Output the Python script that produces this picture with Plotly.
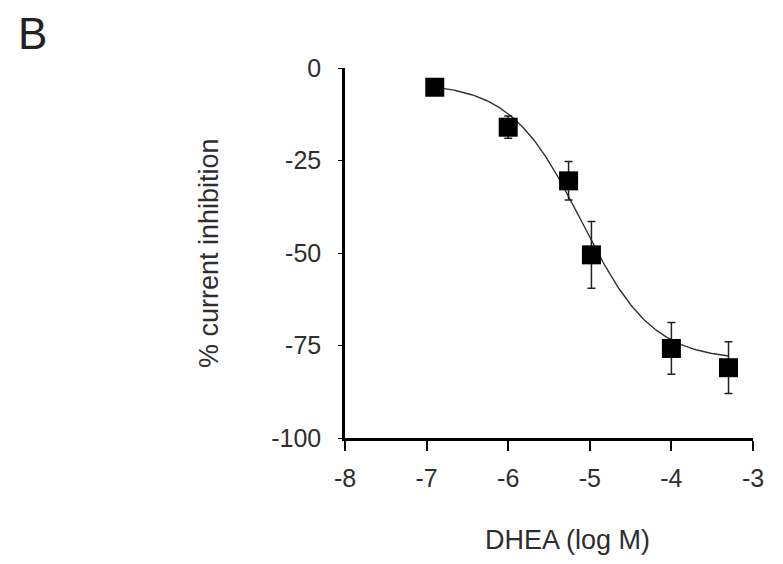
import numpy as np
import plotly.graph_objects as go

# measured points: log concentration, % inhibition, error (SEM)
log_conc = [-6.9, -6.0, -5.26, -4.98, -4.0, -3.3]
inhibition = [-5.2, -16.0, -30.5, -50.5, -75.8, -81.0]
sem = [2.0, 3.0, 5.2, 9.0, 7.0, 7.0]

# Hill fit parameters
fit_top = -4.0
fit_bottom = -79.0
fit_logic50 = -5.1
fit_slope = 1.0

x_fit = np.linspace(-6.9, -3.3, 200)
y_fit = fit_bottom + (fit_top - fit_bottom) / (1 + 10 ** ((x_fit - fit_logic50) * fit_slope))

x_ticks = [-8, -7, -6, -5, -4, -3]
y_ticks = [0, -25, -50, -75, -100]

FONT = "Liberation Sans, Arial, sans-serif"
tick_font = dict(family=FONT, size=25, color="#2e2e2e")
title_font = dict(family=FONT, size=27, color="#2e2e2e")

fig = go.Figure()
fig.add_trace(go.Scatter(x=x_fit, y=y_fit, mode="lines",
                         line=dict(color="#333333", width=1.4),
                         hoverinfo="skip", cliponaxis=False))
fig.add_trace(go.Scatter(x=log_conc, y=inhibition, mode="markers",
                         marker=dict(symbol="square", size=19, color="black"),
                         error_y=dict(type="data", array=sem, visible=True,
                                      color="#222222", thickness=1.5, width=4),
                         cliponaxis=False))

# page body has an 8px margin, so the figure is sized to fit inside it
fig.update_layout(
    width=775, height=556,
    margin=dict(l=337, r=30, t=60, b=126),
    plot_bgcolor="white", paper_bgcolor="white",
    showlegend=False,
    xaxis=dict(range=[-8, -3], tickvals=x_ticks, ticktext=[str(v) for v in x_ticks],
               showline=True, linecolor="black", linewidth=2.5,
               ticks="outside", ticklen=10, tickwidth=1.5, tickcolor="black",
               ticklabelstandoff=6,
               showgrid=False, zeroline=False, tickfont=tick_font),
    yaxis=dict(range=[-100, 0], tickvals=y_ticks, ticktext=[str(v) for v in y_ticks],
               showline=True, linecolor="black", linewidth=2.5,
               ticks="outside", ticklen=4, tickwidth=1.2, tickcolor="black",
               ticklabelstandoff=12,
               showgrid=False, zeroline=False, tickfont=tick_font),
    annotations=[
        dict(text="B", x=0, y=1, xref="paper", yref="paper", xshift=-313, yshift=35,
             showarrow=False, xanchor="center", yanchor="middle",
             font=dict(family=FONT, size=44, color="#222222")),
        dict(text="% current inhibition", x=0, y=0.5, xref="paper", yref="paper",
             xshift=-136, textangle=-90, showarrow=False,
             xanchor="center", yanchor="middle", font=title_font),
        dict(text="DHEA (log M)", x=0.5, y=0, xref="paper", yref="paper",
             xshift=18, yshift=-102, showarrow=False,
             xanchor="center", yanchor="middle", font=title_font),
    ],
)

fig.write_html("out.html")
